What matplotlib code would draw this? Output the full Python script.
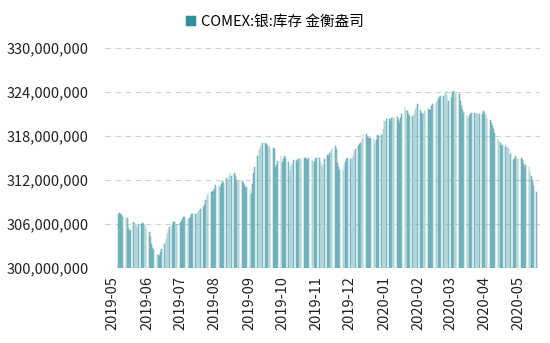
import matplotlib
matplotlib.use("Agg")
import matplotlib.pyplot as plt
import matplotlib.dates as mdates
from matplotlib.ticker import FuncFormatter
import pandas as pd
import numpy as np

plt.rcParams['font.family'] = ['Noto Sans CJK SC', 'DejaVu Sans']

# COMEX silver stocks, troy ounces (millions), one row per trading week
start_date = "2019-05-06"
stock_m = [
    307.4, 307.5, 307.3, 307.2, 307.0,
    307.0, 306.8, 305.5, 305.1, 305.2,
    306.3, 306.1, 305.8, 305.6, 305.9,
    306.0, 306.1, 306.0, 305.9, 305.5,
    304.9, 304.2, 303.3, 302.7, 302.4,
    301.9, 301.7, 301.6, 302.2, 302.6,
    303.3, 303.9, 304.7, 305.2, 305.6,
    305.9, 306.3, 306.2, 306.0, 306.0,
    306.1, 306.4, 306.7, 307.0, 306.9,
    306.8, 306.7, 307.0, 307.3, 307.3,
    307.3, 307.5, 307.6, 307.9, 308.1,
    308.3, 308.6, 309.3, 309.8, 310.2,
    310.3, 310.5, 310.3, 310.8, 311.3,
    311.3, 311.1, 311.5, 311.8, 311.6,
    312.2, 312.0, 312.5, 312.9, 312.6,
    312.9, 312.5, 312.0, 311.8, 311.9,
    311.8, 311.6, 311.3, 310.9, 311.0,
    310.6, 310.1, 311.5, 312.9, 313.8,
    315.2, 316.1, 316.5, 316.8, 317.0,
    317.1, 316.9, 316.6, 316.6, 316.4,
    316.4, 316.2, 313.6, 314.0, 314.6,
    315.2, 314.5, 314.8, 315.3, 315.0,
    314.4, 313.4, 313.9, 314.3, 314.7,
    314.7, 314.5, 314.8, 315.0, 314.9,
    315.0, 315.0, 314.8, 314.7, 315.0,
    314.7, 314.6, 314.5, 314.8, 315.0,
    315.0, 314.4, 313.8, 314.2, 314.8,
    315.4, 315.2, 315.7, 316.0, 316.3,
    316.6, 316.2, 314.3, 313.8, 313.4,
    313.4, 314.0, 314.5, 314.8, 315.0,
    314.8, 315.0, 315.3, 315.9, 316.2,
    316.6, 316.9, 317.1, 317.6, 318.2,
    318.2, 317.9, 317.7, 317.6, 317.7,
    317.6, 317.1, 317.5, 318.1, 318.0,
    318.1, 319.0, 320.0, 320.1, 320.3,
    320.3, 320.0, 320.4, 320.6, 320.5,
    320.6, 320.2, 319.8, 320.5, 321.0,
    321.9, 321.6, 321.4, 321.0, 320.7,
    320.7, 321.0, 321.6, 322.0, 322.4,
    321.6, 321.2, 321.0, 321.4, 321.5,
    321.7, 321.5, 321.6, 322.1, 322.3,
    322.6, 322.8, 323.0, 323.3, 323.5,
    323.5, 323.8, 324.2, 323.6, 322.8,
    323.2, 324.0, 324.2, 324.0, 323.7,
    323.7, 322.8, 322.1, 321.6, 321.2,
    320.8, 320.5, 320.7, 321.0, 321.2,
    321.2, 321.1, 321.2, 321.0, 321.0,
    321.0, 321.4, 321.2, 320.8, 320.5,
    320.2, 319.8, 319.4, 318.9, 318.4,
    317.6, 317.3, 317.0, 316.8, 316.6,
    316.6, 316.5, 316.4, 316.4, 315.6,
    314.7, 314.9, 315.2, 315.0, 314.8,
    315.0, 314.7, 314.3, 313.8, 314.1,
    313.8, 313.1, 312.5, 312.0, 311.2,
    310.4,
]
label = "COMEX:银:库存 金衡盎司"
y_ticks = [300e6, 306e6, 312e6, 318e6, 324e6, 330e6]

dates = pd.bdate_range(start=start_date, periods=len(stock_m))
values = np.array(stock_m) * 1e6

fig = plt.figure(figsize=(5.5, 3.43), dpi=100)
ax = fig.add_axes([0.191, 0.219, 0.791, 0.641])

ax.bar(dates, values - 300e6, bottom=300e6, width=0.6,
       color='#a3d2d9', edgecolor='#4f9fab', linewidth=0.35, label=label)

ax.set_ylim(300e6, 330e6)
ax.set_yticks(y_ticks)
ax.yaxis.set_major_formatter(FuncFormatter(lambda v, p: f"{v:,.0f}"))
ax.set_xlim(pd.Timestamp("2019-04-24"), pd.Timestamp("2020-05-21"))
ax.xaxis.set_major_locator(mdates.MonthLocator())
ax.xaxis.set_major_formatter(mdates.DateFormatter("%Y-%m"))
plt.setp(ax.get_xticklabels(), rotation=90)

ax.grid(axis='y', color='#d0d0d0', linestyle=(0, (5, 4)), linewidth=0.8)
ax.set_axisbelow(True)
for s in ax.spines.values():
    s.set_visible(False)
ax.tick_params(length=0, labelsize=10.5, colors='#222222', pad=6)
ax.tick_params(axis='y', pad=12)

leg = fig.legend(loc='upper center', bbox_to_anchor=(0.5, 0.995), frameon=False,
                 fontsize=10.5, handlelength=0.7, handleheight=0.7,
                 handletextpad=0.3)
for h in leg.legend_handles:
    h.set_color('#2f8f9c')

fig.savefig("out.png", dpi=100)
